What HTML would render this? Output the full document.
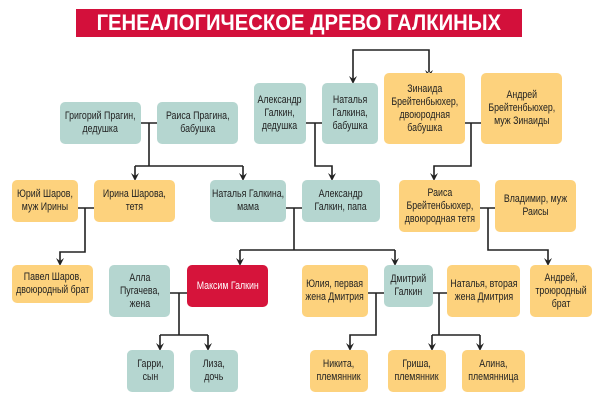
<!DOCTYPE html>
<html><head><meta charset="utf-8"><style>
body{margin:0;width:600px;height:400px;background:#fff;position:relative;overflow:hidden;font-family:"Liberation Sans",sans-serif;}
.t{position:absolute;left:76px;top:9px;width:446px;height:28px;background:#d3103b;color:#fff;font:bold 22px "Liberation Sans",sans-serif;display:flex;align-items:center;justify-content:center;}
.b{position:absolute;border-radius:5px;display:flex;align-items:center;justify-content:center;text-align:center;font-size:11px;line-height:13px;color:#222;box-sizing:border-box;}
.b span{display:inline-block;white-space:nowrap;transform:scaleX(0.8);}
.g{background:#b5d6d0}.o{background:#fdd27d}.r{background:#d6143b;color:#fff}
svg{position:absolute;left:0;top:0}
</style></head><body>
<div class="t"><span style="display:inline-block;transform:scaleX(0.92)">ГЕНЕАЛОГИЧЕСКОЕ ДРЕВО ГАЛКИНЫХ</span></div>
<svg width="600" height="400" stroke="#222" stroke-width="1.6" fill="none">
<g>
<path d="M353,82 V50 H429 V72"/>
<path d="M141,123 H157 M149,123 V166 M135,166 H243 M135,166 V178 M243,166 V178"/>
<path d="M306,123 H322 M315,123 V166 H332 V178"/>
<path d="M465,123 H481 M471,123 V166 H434 V178"/>
<path d="M78,208 H94 M85,208 V252 H60 V264"/>
<path d="M286,208 H302 M294,208 V250 M240,250 H395 M240,250 V264 M395,250 V264"/>
<path d="M480,208 H495 M488,208 V250 H548 V264"/>
<path d="M170,293 H187 M179,293 V335 M160,335 H208 M160,335 V349 M208,335 V349"/>
<path d="M368,293 H384 M376,293 V335 H350 V349"/>
<path d="M433,293 H447 M439,293 V335 M432,335 H480 M432,335 V349 M480,335 V349"/>
</g>
<g fill="#222" stroke="none">
<path d="M349,76 L353,84 L357,76 L353,79z"/><path d="M425,70 L429,78 L433,70 L429,73z"/>
<path d="M131,173 L135,181 L139,173 L135,176z"/><path d="M239,173 L243,181 L247,173 L243,176z"/>
<path d="M328,173 L332,181 L336,173 L332,176z"/><path d="M430,173 L434,181 L438,173 L434,176z"/>
<path d="M56,258 L60,266 L64,258 L60,261z"/><path d="M236,258 L240,266 L244,258 L240,261z"/>
<path d="M391,258 L395,266 L399,258 L395,261z"/><path d="M544,258 L548,266 L552,258 L548,261z"/>
<path d="M156,343 L160,351 L164,343 L160,346z"/><path d="M204,343 L208,351 L212,343 L208,346z"/>
<path d="M346,343 L350,351 L354,343 L350,346z"/><path d="M428,343 L432,351 L436,343 L432,346z"/>
<path d="M476,343 L480,351 L484,343 L480,346z"/>
</g>
</svg>
<div class="b g" style="left:60px;top:102px;width:81px;height:42px"><span>Григорий Прагин,<br>дедушка</span></div>
<div class="b g" style="left:157px;top:102px;width:81px;height:42px"><span>Раиса Прагина,<br>бабушка</span></div>
<div class="b g" style="left:254px;top:83px;width:52px;height:61px"><span>Александр<br>Галкин,<br>дедушка</span></div>
<div class="b g" style="left:322px;top:83px;width:56px;height:61px"><span>Наталья<br>Галкина,<br>бабушка</span></div>
<div class="b o" style="left:384px;top:73px;width:81px;height:71px"><span>Зинаида<br>Брейтенбьюхер,<br>двоюродная<br>бабушка</span></div>
<div class="b o" style="left:481px;top:73px;width:81px;height:71px"><span>Андрей<br>Брейтенбьюхер,<br>муж Зинаиды</span></div>
<div class="b o" style="left:12px;top:180px;width:66px;height:42px"><span>Юрий Шаров,<br>муж Ирины</span></div>
<div class="b o" style="left:94px;top:180px;width:81px;height:42px"><span>Ирина Шарова,<br>тетя</span></div>
<div class="b g" style="left:210px;top:180px;width:76px;height:42px"><span>Наталья Галкина,<br>мама</span></div>
<div class="b g" style="left:302px;top:180px;width:78px;height:42px"><span>Александр<br>Галкин, папа</span></div>
<div class="b o" style="left:399px;top:180px;width:81px;height:52px"><span>Раиса<br>Брейтенбьюхер,<br>двоюродная тетя</span></div>
<div class="b o" style="left:495px;top:180px;width:81px;height:52px"><span>Владимир, муж<br>Раисы</span></div>
<div class="b o" style="left:12px;top:265px;width:81px;height:38px"><span>Павел Шаров,<br>двоюродный брат</span></div>
<div class="b g" style="left:109px;top:265px;width:61px;height:52px"><span>Алла<br>Пугачева,<br>жена</span></div>
<div class="b r" style="left:187px;top:265px;width:81px;height:42px"><span>Максим Галкин</span></div>
<div class="b o" style="left:302px;top:265px;width:66px;height:52px"><span>Юлия, первая<br>жена Дмитрия</span></div>
<div class="b g" style="left:384px;top:265px;width:49px;height:42px"><span>Дмитрий<br>Галкин</span></div>
<div class="b o" style="left:447px;top:265px;width:73px;height:52px"><span>Наталья, вторая<br>жена Дмитрия</span></div>
<div class="b o" style="left:530px;top:265px;width:62px;height:52px"><span>Андрей,<br>троюродный<br>брат</span></div>
<div class="b g" style="left:127px;top:350px;width:47px;height:42px"><span>Гарри,<br>сын</span></div>
<div class="b g" style="left:190px;top:350px;width:48px;height:42px"><span>Лиза,<br>дочь</span></div>
<div class="b o" style="left:310px;top:350px;width:58px;height:42px"><span>Никита,<br>племянник</span></div>
<div class="b o" style="left:388px;top:350px;width:58px;height:42px"><span>Гриша,<br>племянник</span></div>
<div class="b o" style="left:462px;top:350px;width:63px;height:42px"><span>Алина,<br>племянница</span></div>
</body></html>
